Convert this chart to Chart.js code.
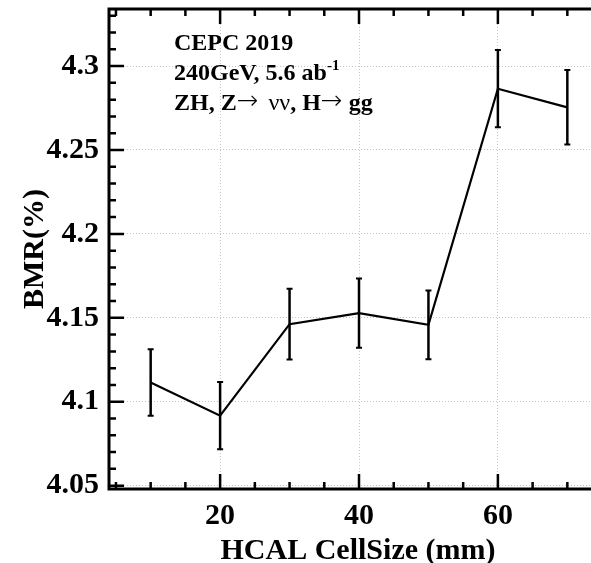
<!DOCTYPE html>
<html>
<head>
<meta charset="utf-8">
<script src="https://cdn.jsdelivr.net/npm/chart.js@4.4.1/dist/chart.umd.min.js"></script>
<style>
    html, body { margin: 0; padding: 0; background: #fff; overflow: hidden; }
    #bmrChart { display: block; }
</style>
</head>
<body>
<canvas id="bmrChart" width="612" height="563"></canvas>
<script>
// BMR vs HCAL cell size
const cellSize = [10, 20, 30, 40, 50, 60, 70];
const bmr = [4.1115, 4.0917, 4.1462, 4.1528, 4.1458, 4.2865, 4.2754];
const bmrErr = [0.0198, 0.0200, 0.0211, 0.0206, 0.0205, 0.0230, 0.0222];

const xTicks = [20, 40, 60];
const yTicks = [4.05, 4.1, 4.15, 4.2, 4.25, 4.3];
const xRange = [4, 76];
const yRange = [4.048, 4.334];

const SERIF = '"Liberation Serif", "Times New Roman", serif';

// vertical error bars with small caps
const errorBars = {
    id: 'errorBars',
    afterDatasetsDraw(chart) {
        const ctx = chart.ctx;
        const xs = chart.scales.x, ys = chart.scales.y;
        ctx.save();
        ctx.strokeStyle = '#000';
        cellSize.forEach((c, i) => {
            const x = xs.getPixelForValue(c);
            const yt = ys.getPixelForValue(bmr[i] + bmrErr[i]);
            const yb = ys.getPixelForValue(bmr[i] - bmrErr[i]);
            ctx.lineWidth = 2.5;
            ctx.beginPath();
            ctx.moveTo(x, yt);
            ctx.lineTo(x, yb);
            ctx.stroke();
            ctx.lineWidth = 2;
            ctx.beginPath();
            ctx.moveTo(x - 3, yt); ctx.lineTo(x + 3, yt);
            ctx.moveTo(x - 3, yb); ctx.lineTo(x + 3, yb);
            ctx.stroke();
        });
        ctx.restore();
    }
};

// frame with inward ticks on every side
const frame = {
    id: 'frame',
    afterDraw(chart) {
        const ctx = chart.ctx;
        const a = chart.chartArea;
        const xs = chart.scales.x, ys = chart.scales.y;
        ctx.save();
        ctx.strokeStyle = '#000';
        ctx.lineWidth = 2.5;
        ctx.beginPath();
        for (let v = 5; v < xs.max; v += 5) {
            const x = xs.getPixelForValue(v);
            const len = v % 20 === 0 ? 15 : 7;
            ctx.moveTo(x, a.bottom); ctx.lineTo(x, a.bottom - len);
            ctx.moveTo(x, a.top); ctx.lineTo(x, a.top + len);
        }
        for (let k = 405; k / 100 < ys.max; k += 1) {
            const y = ys.getPixelForValue(k / 100);
            const len = k % 5 === 0 ? 15 : 7;
            ctx.moveTo(a.left, y); ctx.lineTo(a.left + len, y);
            ctx.moveTo(a.right, y); ctx.lineTo(a.right - len, y);
        }
        ctx.stroke();
        ctx.lineWidth = 3;
        ctx.strokeRect(a.left, a.top, a.right - a.left, a.bottom - a.top);
        ctx.restore();
    }
};

// axis titles and the info block
const labels = {
    id: 'labels',
    afterDraw(chart) {
        const ctx = chart.ctx;
        ctx.save();
        ctx.fillStyle = '#000';
        ctx.textBaseline = 'alphabetic';

        ctx.font = 'bold 30px ' + SERIF;
        ctx.textAlign = 'center';
        ctx.fillText('HCAL CellSize (mm)', 358, 559);

        ctx.save();
        ctx.translate(43, 249);
        ctx.rotate(-Math.PI / 2);
        ctx.fillText('BMR(%)', 0, 0);
        ctx.restore();

        ctx.textAlign = 'left';
        const bold = 'bold 24px ' + SERIF;
        const thin = '24px ' + SERIF;
        const arrow = '200 26px "DejaVu Sans", sans-serif';
        const run = (parts, x, y) => {
            parts.forEach(p => {
                ctx.font = p[1];
                const dy = p[2] || 0;
                ctx.fillText(p[0], x, y + dy);
                x += ctx.measureText(p[0]).width + (p[3] || 0);
            });
        };
        run([['CEPC 2019', bold]], 174, 50);
        run([['240GeV, 5.6 ab', bold], ['-1', 'bold 15px ' + SERIF, -10]], 174, 80);
        run([
            ['ZH, Z', bold], ['\u2192', arrow, -1, 10], ['\u03bd\u03bd', thin],
            [', H', bold], ['\u2192', arrow, -1, 6], ['gg', bold]
        ], 174, 110);
        ctx.restore();
    }
};

// keep the plot area fixed: no extra room for overhanging tick labels
const noOverhang = s => {
    s.paddingTop = 0;
    s.paddingBottom = 0;
    s.paddingLeft = 0;
    s.paddingRight = 0;
};

new Chart(document.getElementById('bmrChart'), {
    type: 'scatter',
    data: {
        datasets: [{
            data: cellSize.map((c, i) => ({ x: c, y: bmr[i] })),
            showLine: true,
            borderColor: '#000',
            borderWidth: 2.2,
            pointRadius: 0,
            tension: 0
        }]
    },
    options: {
        responsive: false,
        devicePixelRatio: 1,
        animation: false,
        layout: { padding: { top: 9, right: 3, left: 0, bottom: 0 } },
        plugins: {
            legend: { display: false },
            tooltip: { enabled: false }
        },
        scales: {
            x: {
                type: 'linear',
                min: xRange[0],
                max: xRange[1],
                afterBuildTicks: s => { s.ticks = xTicks.map(v => ({ value: v })); },
                afterFit: s => { s.height = 74; noOverhang(s); },
                grid: { color: '#c4c4c4', lineWidth: 1, drawTicks: false },
                border: { display: false, dash: [1, 2] },
                ticks: {
                    color: '#000',
                    padding: 9,
                    maxRotation: 0,
                    font: { family: SERIF, size: 30, weight: 'bold' }
                }
            },
            y: {
                min: yRange[0],
                max: yRange[1],
                afterBuildTicks: s => { s.ticks = yTicks.map(v => ({ value: v })); },
                afterFit: s => { s.width = 109; noOverhang(s); },
                grid: { color: '#c4c4c4', lineWidth: 1, drawTicks: false },
                border: { display: false, dash: [1, 2] },
                ticks: {
                    color: '#000',
                    padding: 10,
                    font: { family: SERIF, size: 30, weight: 'bold' },
                    callback: v => String(+v.toFixed(2))
                }
            }
        }
    },
    plugins: [errorBars, frame, labels]
});
</script>
</body>
</html>
